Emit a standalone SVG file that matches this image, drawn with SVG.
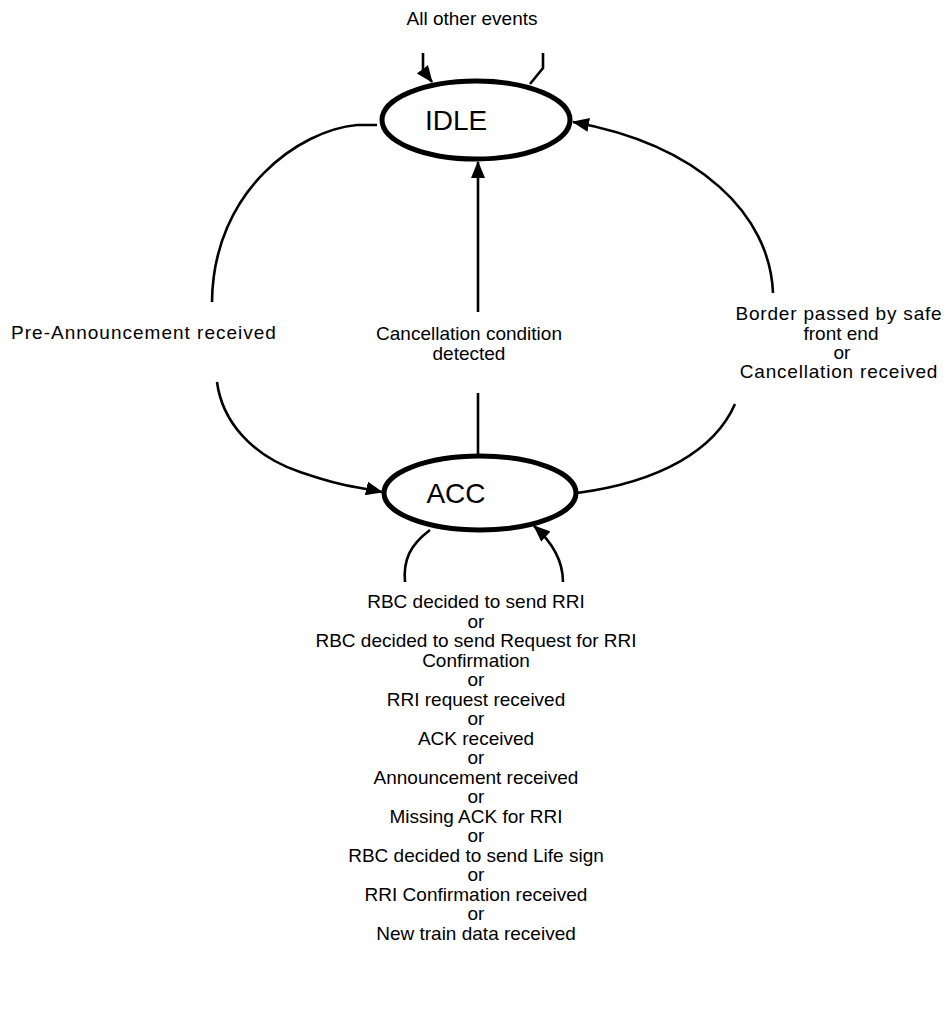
<svg xmlns="http://www.w3.org/2000/svg" width="949" height="1027" viewBox="0 0 949 1027">
<style>
text{font-family:"Liberation Sans",Arial,sans-serif;fill:#000;text-anchor:middle}
.lbl{font-size:19px}
.st{font-size:28px}
.node{fill:#fff;stroke:#000;stroke-width:5}
.edge{fill:none;stroke:#000;stroke-width:2.6}
</style>
<defs>
<marker id="ah" markerUnits="userSpaceOnUse" markerWidth="18" markerHeight="14" refX="16" refY="7" orient="auto">
<path d="M0,0 L17,7 L0,14 Z" fill="#000"/>
</marker>
</defs>
<rect width="949" height="1027" fill="#fff"/>
<g id="connectors">
<path class="edge" d="M423,53 L423,70 L432,82" marker-end="url(#ah)"/>
<path class="edge" d="M543,53 L543,68 L530,84"/>
<path class="edge" d="M377,125 L357,125 C300,130 213,190 212,302"/>
<path class="edge" d="M217,382 C222,420 250,455 300,472 S360,487 382,492" marker-end="url(#ah)"/>
<path class="edge" d="M478,312 L478,162" marker-end="url(#ah)"/>
<path class="edge" d="M478,393 L478,456"/>
<path class="edge" d="M773,293 C770,215 700,145 573,122" marker-end="url(#ah)"/>
<path class="edge" d="M735,404 C715,450 660,482 577,493"/>
<path class="edge" d="M430,530 C410,545 403,560 405,582"/>
<path class="edge" d="M563,582 C563,560 552,542 534,526" marker-end="url(#ah)"/>
</g>
<g id="IDLE">
<ellipse class="node" cx="476" cy="120" rx="94" ry="39"/>
<text class="st" x="456" y="130">IDLE</text>
</g>
<g id="ACC">
<ellipse class="node" cx="480" cy="493" rx="96" ry="37"/>
<text class="st" x="456" y="503">ACC</text>
</g>
<g id="labels">
<text class="lbl" x="472" y="25">All other events</text>
<text class="lbl" x="144" y="339" letter-spacing="1">Pre-Announcement received</text>
<text class="lbl" x="469" y="340">Cancellation condition</text>
<text class="lbl" x="469" y="359.5">detected</text>
<text class="lbl" x="839" y="320" letter-spacing="0.8">Border passed by safe</text>
<text class="lbl" x="841" y="340">front end</text>
<text class="lbl" x="842" y="359">or</text>
<text class="lbl" x="839" y="378" letter-spacing="0.8">Cancellation received</text>
<text class="lbl" x="476" y="608">RBC decided to send RRI</text>
<text class="lbl" x="476" y="627.5">or</text>
<text class="lbl" x="476" y="647">RBC decided to send Request for RRI</text>
<text class="lbl" x="476" y="666.5">Confirmation</text>
<text class="lbl" x="476" y="686">or</text>
<text class="lbl" x="476" y="705.5">RRI request received</text>
<text class="lbl" x="476" y="725">or</text>
<text class="lbl" x="476" y="744.5">ACK received</text>
<text class="lbl" x="476" y="764">or</text>
<text class="lbl" x="476" y="783.5">Announcement received</text>
<text class="lbl" x="476" y="803">or</text>
<text class="lbl" x="476" y="822.5">Missing ACK for RRI</text>
<text class="lbl" x="476" y="842">or</text>
<text class="lbl" x="476" y="861.5">RBC decided to send Life sign</text>
<text class="lbl" x="476" y="881">or</text>
<text class="lbl" x="476" y="900.5">RRI Confirmation received</text>
<text class="lbl" x="476" y="920">or</text>
<text class="lbl" x="476" y="939.5">New train data received</text>
</g>
</svg>
